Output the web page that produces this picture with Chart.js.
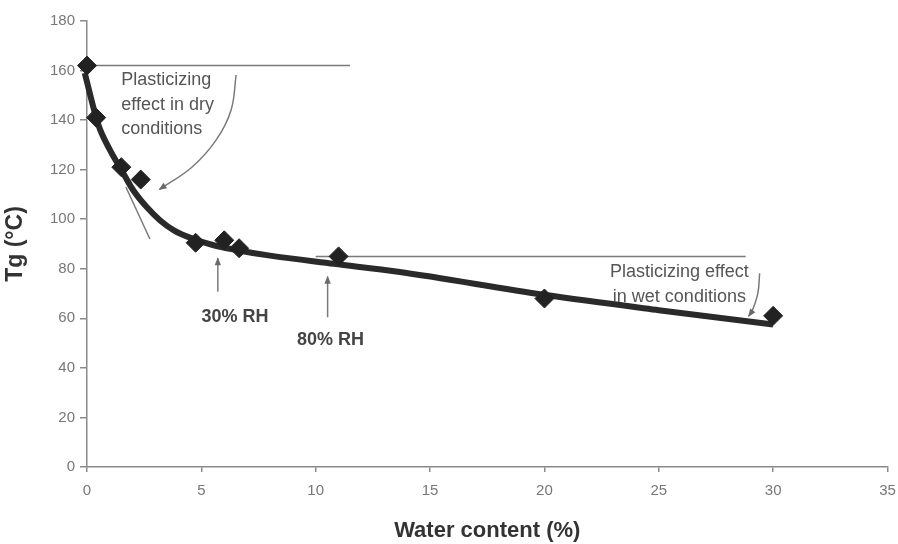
<!DOCTYPE html>
<html>
<head>
<meta charset="utf-8">
<script src="https://cdn.jsdelivr.net/npm/chart.js@4/dist/chart.umd.min.js"></script>
<style>
  body { margin: 0; background: #fff; }
  #wrap { width: 898px; height: 544px; }
</style>
</head>
<body>
<div id="wrap"><canvas id="tgChart" width="898" height="544"></canvas></div>
<script>
// measured points (water content %, Tg °C)
const waterContent = [0, 0.4, 1.5, 2.35, 4.75, 6.0, 6.65, 11.0, 20.0, 30.0];
const tgValues     = [162, 141, 121, 116, 90.5, 91.5, 88.3, 85, 68, 61];

// fitted curve
const fitX = [-0.1, 0.5, 1, 1.5, 2, 2.6, 3.2, 3.8, 4.6, 5.5, 6.4, 8, 10.8, 13.6, 20, 25, 30];
const fitY = [159, 138, 128, 120, 112, 105, 99.5, 95.5, 92.2, 89.6, 87.8, 85.3, 82, 78.8, 69.5, 63.3, 57.5];

// thin guide lines
const dryLevelX = [0, 11.5];
const dryLevelY = [162, 162];
const wetLevelX = [10, 28.8];
const wetLevelY = [85, 85];
const tangentX = [1.7, 2.75];
const tangentY = [113, 92];

// arrows (last point = arrow tip)
const dryArrowX = [6.52, 6.3, 5.65, 4.61, 3.17];
const dryArrowY = [158.2, 144.1, 132, 121.2, 112];
const wetArrowX = [29.41, 29.33, 29.07, 28.93];
const wetArrowY = [78.2, 70.1, 62.7, 60.9];
const rh30ArrowX = [5.72, 5.72];
const rh30ArrowY = [70.7, 84.2];
const rh80ArrowX = [10.52, 10.52];
const rh80ArrowY = [60.4, 76.8];

// axis ticks
const xTicks = [0, 5, 10, 15, 20, 25, 30, 35];
const yTicks = [0, 20, 40, 60, 80, 100, 120, 140, 160, 180];

// text notes
const dryNote = ['Plasticizing', 'effect in dry', 'conditions'];
const wetNote = ['Plasticizing effect', 'in wet conditions'];
const rhLabels = ['30% RH', '80% RH'];

function pairs(xs, ys) {
    return xs.map((x, i) => ({ x: x, y: ys[i] }));
}

function thinLine(xs, ys, tension) {
    return {
        type: 'line',
        data: pairs(xs, ys),
        borderColor: '#7a7a7a',
        borderWidth: 1.5,
        pointRadius: 0,
        tension: tension || 0,
        fill: false
    };
}

const arrowSets = [5, 6, 7, 8]; // dataset indexes that get an arrow head

const notesPlugin = {
    id: 'notes',
    afterDatasetsDraw(chart) {
        const ctx = chart.ctx;
        const xs = chart.scales.x, ys = chart.scales.y;

        // arrow heads
        arrowSets.forEach(function (idx) {
            const pts = chart.getDatasetMeta(idx).data;
            const a = pts[pts.length - 2], b = pts[pts.length - 1];
            const ang = Math.atan2(b.y - a.y, b.x - a.x);
            ctx.save();
            ctx.fillStyle = '#6a6a6a';
            ctx.translate(b.x, b.y);
            ctx.rotate(ang);
            ctx.beginPath();
            ctx.moveTo(1, 0);
            ctx.lineTo(-7, -3.2);
            ctx.lineTo(-7, 3.2);
            ctx.closePath();
            ctx.fill();
            ctx.restore();
        });

        ctx.save();
        ctx.textBaseline = 'middle';
        ctx.fillStyle = '#555';
        ctx.font = '18px "Liberation Sans", Arial, sans-serif';
        ctx.textAlign = 'left';
        const dryYs = [156.2, 146.1, 136.3];
        dryNote.forEach(function (t, i) {
            ctx.fillText(t, xs.getPixelForValue(1.5), ys.getPixelForValue(dryYs[i]));
        });
        ctx.textAlign = 'center';
        const wetYs = [78.8, 68.6];
        wetNote.forEach(function (t, i) {
            ctx.fillText(t, xs.getPixelForValue(25.9), ys.getPixelForValue(wetYs[i]));
        });
        ctx.fillStyle = '#444';
        ctx.font = 'bold 18px "Liberation Sans", Arial, sans-serif';
        ctx.fillText(rhLabels[0], xs.getPixelForValue(6.47), ys.getPixelForValue(60.7));
        ctx.fillText(rhLabels[1], xs.getPixelForValue(10.65), ys.getPixelForValue(51.3));
        ctx.restore();
    }
};

const ctx = document.getElementById('tgChart').getContext('2d');
const tgChart = new Chart(ctx, {
    type: 'scatter',
    data: {
        datasets: [
            {
                label: 'Tg',
                data: pairs(waterContent, tgValues),
                pointStyle: 'rectRot',
                pointRadius: 9.5,
                pointBackgroundColor: '#222',
                pointBorderColor: '#222',
                showLine: false,
                clip: false
            },
            {
                type: 'line',
                label: 'fit',
                data: pairs(fitX, fitY),
                borderColor: '#2a2a2a',
                borderWidth: 6,
                pointRadius: 0,
                cubicInterpolationMode: 'monotone',
                fill: false,
                clip: false
            },
            thinLine(dryLevelX, dryLevelY),
            thinLine(wetLevelX, wetLevelY),
            thinLine(tangentX, tangentY),
            thinLine(dryArrowX, dryArrowY, 0.4),
            thinLine(wetArrowX, wetArrowY, 0.4),
            thinLine(rh30ArrowX, rh30ArrowY),
            thinLine(rh80ArrowX, rh80ArrowY)
        ]
    },
    options: {
        responsive: false,
        animation: false,
        layout: { padding: { top: 21, right: 9, left: 0, bottom: 0 } },
        plugins: {
            legend: { display: false },
            tooltip: { enabled: false }
        },
        scales: {
            x: {
                type: 'linear',
                min: 0,
                max: 35,
                afterBuildTicks: (s) => { s.ticks = xTicks.map(v => ({ value: v })); },
                afterFit: (s) => { s.height = 77; s.paddingRight = 0; s.paddingLeft = 0; },
                ticks: {
                    color: '#777',
                    font: { size: 15, family: '"Liberation Sans", Arial, sans-serif' },
                    padding: 10
                },
                grid: { drawOnChartArea: false, tickLength: 5, color: '#8a8a8a', lineWidth: 1.5 },
                border: { color: '#8a8a8a', width: 1.5 },
                title: {
                    display: true,
                    text: 'Water content (%)',
                    color: '#333',
                    font: { size: 22, weight: 'bold', family: '"Liberation Sans", Arial, sans-serif' },
                    padding: { top: 0, bottom: 0 }
                }
            },
            y: {
                min: 0,
                max: 180,
                afterBuildTicks: (s) => { s.ticks = yTicks.map(v => ({ value: v })); },
                afterFit: (s) => { s.width = 87; },
                ticks: {
                    color: '#777',
                    font: { size: 15, family: '"Liberation Sans", Arial, sans-serif' },
                    padding: 5
                },
                grid: { drawOnChartArea: false, tickLength: 7, color: '#8a8a8a', lineWidth: 1.5 },
                border: { color: '#8a8a8a', width: 1.5 },
                title: {
                    display: true,
                    text: 'Tg (°C)',
                    color: '#333',
                    font: { size: 23, weight: 'bold', family: '"Liberation Sans", Arial, sans-serif' },
                    padding: { top: 2, bottom: 0 }
                }
            }
        }
    },
    plugins: [notesPlugin]
});
</script>
</body>
</html>
